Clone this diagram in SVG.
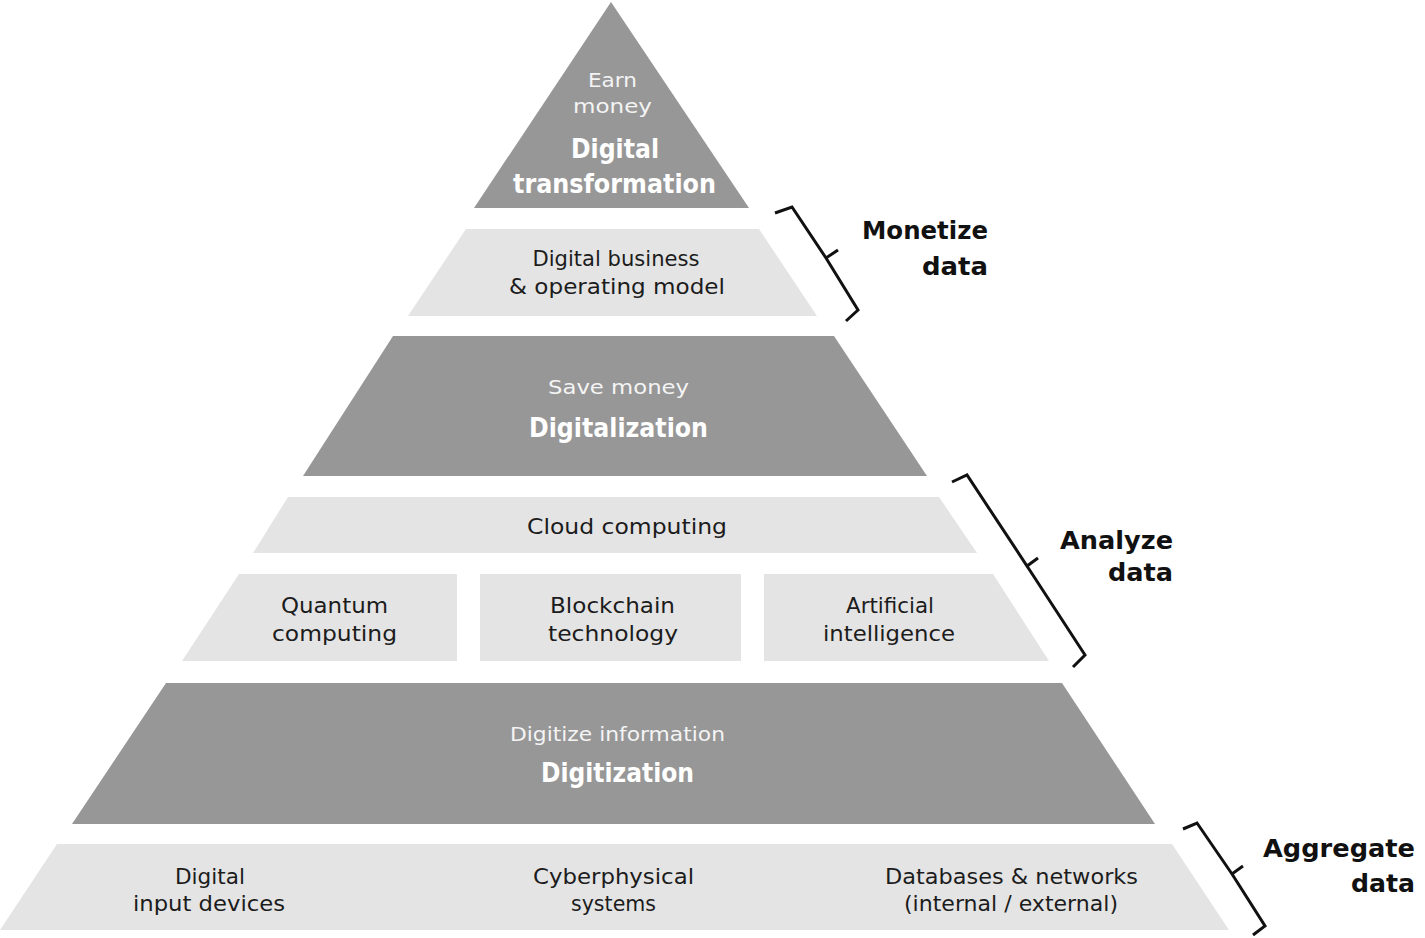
<svg xmlns="http://www.w3.org/2000/svg" width="1425" height="938" viewBox="0 0 1425 938">
<style>
.dark{fill:#979797}
.light{fill:#e4e4e4}
text{font-family:"DejaVu Sans","Liberation Sans",sans-serif;text-anchor:middle}
.t{font-size:22px;fill:#1c1c1c}
.s{font-size:20px;fill:#f4f4f4}
.b{font-size:26px;font-weight:bold;fill:#ffffff}
.r{font-size:25px;font-weight:bold;fill:#111111;text-anchor:end}
.br{fill:none;stroke:#111111;stroke-width:3;stroke-linejoin:miter;stroke-linecap:butt}
</style>
<rect width="1425" height="938" fill="#ffffff"/>
<g id="digital-transformation">
<polygon class="dark" points="611,2 749,208 474,208"/>
<text class="s" x="612.5" y="87" textLength="49" lengthAdjust="spacingAndGlyphs">Earn</text>
<text class="s" x="612.5" y="113" textLength="79" lengthAdjust="spacingAndGlyphs">money</text>
<text class="b" x="615" y="158" textLength="88" lengthAdjust="spacingAndGlyphs">Digital</text>
<text class="b" x="614.5" y="193" textLength="203" lengthAdjust="spacingAndGlyphs">transformation</text>
</g>
<g id="digital-business">
<polygon class="light" points="466,229 759,229 817,316 408,316"/>
<text class="t" x="616" y="266" textLength="167" lengthAdjust="spacingAndGlyphs">Digital business</text>
<text class="t" x="617" y="294" textLength="216" lengthAdjust="spacingAndGlyphs">&amp; operating model</text>
</g>
<g id="digitalization">
<polygon class="dark" points="393,336 834,336 927,476 303,476"/>
<text class="s" x="618.5" y="394" textLength="141" lengthAdjust="spacingAndGlyphs">Save money</text>
<text class="b" x="618.5" y="437" textLength="179" lengthAdjust="spacingAndGlyphs">Digitalization</text>
</g>
<g id="cloud-computing">
<polygon class="light" points="288,497 939,497 977,553 253,553"/>
<text class="t" x="627" y="534" textLength="200" lengthAdjust="spacingAndGlyphs">Cloud computing</text>
</g>
<g id="quantum-computing">
<polygon class="light" points="239,574 457,574 457,661 182,661"/>
<text class="t" x="334.5" y="613" textLength="107" lengthAdjust="spacingAndGlyphs">Quantum</text>
<text class="t" x="334.5" y="641" textLength="125" lengthAdjust="spacingAndGlyphs">computing</text>
</g>
<g id="blockchain-technology">
<rect class="light" x="480" y="574" width="261" height="87"/>
<text class="t" x="612.5" y="613" textLength="125" lengthAdjust="spacingAndGlyphs">Blockchain</text>
<text class="t" x="613" y="641" textLength="130" lengthAdjust="spacingAndGlyphs">technology</text>
</g>
<g id="artificial-intelligence">
<polygon class="light" points="764,574 993,574 1049,661 764,661"/>
<text class="t" x="890" y="613" textLength="88" lengthAdjust="spacingAndGlyphs">Artificial</text>
<text class="t" x="889" y="641" textLength="132" lengthAdjust="spacingAndGlyphs">intelligence</text>
</g>
<g id="digitization">
<polygon class="dark" points="166,683 1062,683 1155,824 72,824"/>
<text class="s" x="617.5" y="741" textLength="215" lengthAdjust="spacingAndGlyphs">Digitize information</text>
<text class="b" x="617.5" y="782" textLength="153" lengthAdjust="spacingAndGlyphs">Digitization</text>
</g>
<g id="data-sources">
<polygon class="light" points="57,844 1172,844 1229,930 0,930"/>
<text class="t" x="210" y="884" textLength="70" lengthAdjust="spacingAndGlyphs">Digital</text>
<text class="t" x="209" y="911" textLength="152" lengthAdjust="spacingAndGlyphs">input devices</text>
<text class="t" x="613.5" y="884" textLength="161" lengthAdjust="spacingAndGlyphs">Cyberphysical</text>
<text class="t" x="613.5" y="911" textLength="85" lengthAdjust="spacingAndGlyphs">systems</text>
<text class="t" x="1011.5" y="884" textLength="253" lengthAdjust="spacingAndGlyphs">Databases &amp; networks</text>
<text class="t" x="1011" y="911" textLength="214" lengthAdjust="spacingAndGlyphs">(internal / external)</text>
</g>
<g id="connectors">
<path class="br" d="M775,213 L792,207 L826,258 L838,250 M826,258 L858,310 L846,321"/>
<path class="br" d="M952,482 L967,475 L1027,566 L1038,558 M1027,566 L1085,655 L1073,667"/>
<path class="br" d="M1183,829 L1197,823 L1232,874 L1243,866 M1232,874 L1265,926 L1253,935"/>
</g>
<g id="label-monetize">
<text class="r" x="988" y="239" textLength="126" lengthAdjust="spacingAndGlyphs">Monetize</text>
<text class="r" x="988" y="275" textLength="66" lengthAdjust="spacingAndGlyphs">data</text>
</g>
<g id="label-analyze">
<text class="r" x="1173" y="549" textLength="113" lengthAdjust="spacingAndGlyphs">Analyze</text>
<text class="r" x="1173" y="581" textLength="65" lengthAdjust="spacingAndGlyphs">data</text>
</g>
<g id="label-aggregate">
<text class="r" x="1415" y="857" textLength="152" lengthAdjust="spacingAndGlyphs">Aggregate</text>
<text class="r" x="1415" y="892" textLength="64" lengthAdjust="spacingAndGlyphs">data</text>
</g>
</svg>
